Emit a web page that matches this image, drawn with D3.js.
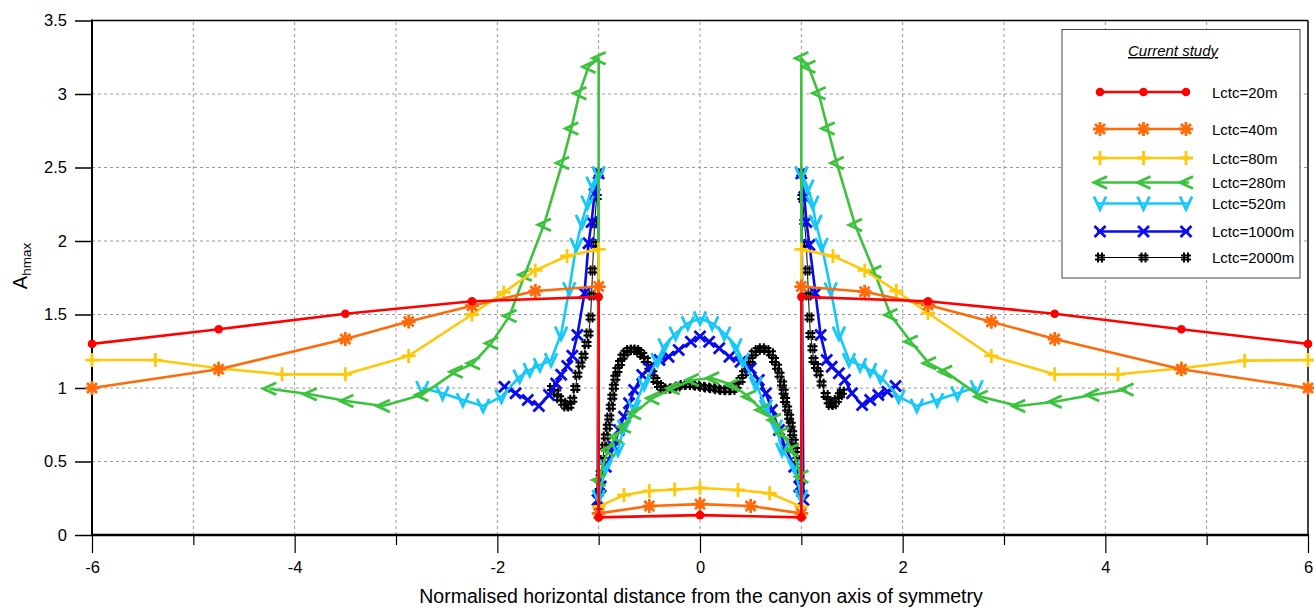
<!DOCTYPE html>
<html><head><meta charset="utf-8">
<script src="https://cdn.jsdelivr.net/npm/d3@7"></script>
<style>
html,body{margin:0;padding:0;background:#fff;}
svg text{font-family:"Liberation Sans",Arial,sans-serif;}
</style></head>
<body>
<svg id="chart" width="1314" height="610"></svg>
<script>
// ---------- DATA ----------
const xTicksMajor = [-6,-4,-2,0,2,4,6];
const xTicksMinor = [-5,-3,-1,1,3,5];
const yTicks = [0,0.5,1,1.5,2,2.5,3,3.5];
const yTickLabels = ["0","0.5","1","1.5","2","2.5","3","3.5"];
const seriesNames = ["Lctc=20m","Lctc=40m","Lctc=80m","Lctc=280m","Lctc=520m","Lctc=1000m","Lctc=2000m"];

const x20 = [-6,-4.75,-3.5,-2.25,-1,-1,0,1,1,2.25,3.5,4.75,6];
const y20 = [1.30,1.40,1.505,1.59,1.62,0.12,0.135,0.12,1.62,1.59,1.505,1.40,1.30];

const x40 = [-6,-4.75,-3.5,-2.875,-2.25,-1.625,-1,-1,-0.5,0,0.5,1,1,1.625,2.25,2.875,3.5,4.75,6];
const y40 = [1.0,1.127,1.333,1.452,1.56,1.66,1.69,0.147,0.197,0.21,0.197,0.147,1.69,1.655,1.565,1.451,1.333,1.127,1.0];

const x80 = [-6,-5.375,-4.75,-4.125,-3.5,-2.875,-2.25,-1.9375,-1.625,-1.3125,-1,-1,-0.75,-0.5,-0.25,0,0.375,0.6875,1,1,1.3125,1.625,1.9375,2.25,2.875,3.5,4.125,4.75,5.375,6];
const y80 = [1.19,1.19,1.134,1.093,1.093,1.218,1.50,1.65,1.80,1.898,1.943,0.193,0.272,0.30,0.31,0.32,0.306,0.284,0.193,1.943,1.898,1.80,1.66,1.51,1.218,1.093,1.093,1.134,1.186,1.19];

const x280 = [-4.25,-3.85,-3.49,-3.13,-2.75,-2.41,-2.24,-2.06,-1.88,-1.73,-1.54,-1.36,-1.27,-1.19,-1.10,-1.0,
  -1.0,-0.91,-0.83,-0.75,-0.65,-0.47,-0.27,-0.08,0.12,0.32,0.48,0.61,0.73,0.81,0.91,1.0,
  1.0,1.07,1.17,1.26,1.35,1.53,1.72,1.88,2.08,2.26,2.42,2.77,3.14,3.50,3.87,4.21];
const y280 = [0.995,0.957,0.912,0.878,0.952,1.111,1.168,1.304,1.49,1.77,2.11,2.53,2.766,3.005,3.186,3.243,
  0.374,0.578,0.669,0.737,0.828,0.93,0.998,1.054,1.066,1.02,0.94,0.85,0.782,0.692,0.578,0.397,
  3.243,3.186,3.005,2.766,2.53,2.109,1.79,1.497,1.315,1.168,1.111,0.941,0.878,0.907,0.952,0.99];

const x520 = [-2.74,-2.54,-2.34,-2.14,-1.96,-1.78,-1.68,-1.58,-1.47,-1.37,-1.29,-1.22,-1.165,-1.11,-1.06,-1.0,
  -1.0,-0.93,-0.81,-0.75,-0.65,-0.55,-0.42,-0.35,-0.24,-0.12,0,0.12,0.24,0.35,0.42,0.55,0.65,0.75,0.81,0.93,1.0,
  1.0,1.06,1.11,1.14,1.20,1.29,1.37,1.47,1.58,1.68,1.78,1.96,2.14,2.34,2.54,2.73];
const y520 = [1.0,0.964,0.918,0.878,0.941,1.077,1.122,1.156,1.19,1.37,1.672,1.973,2.13,2.26,2.39,2.46,
  0.26,0.465,0.58,0.737,0.873,1.03,1.19,1.29,1.37,1.44,1.474,1.44,1.37,1.29,1.19,1.03,0.873,0.737,0.578,0.465,0.26,
  2.46,2.37,2.26,2.13,1.973,1.67,1.37,1.19,1.156,1.122,1.077,0.941,0.878,0.918,0.964,1.005];

const x1000 = [-1.93,-1.82,-1.70,-1.59,-1.49,-1.42,-1.37,-1.31,-1.26,-1.21,-1.14,-1.10,-1.07,-1.04,-1.0,
  -1.01,-0.98,-0.93,-0.85,-0.80,-0.75,-0.70,-0.65,-0.57,-0.50,-0.40,-0.31,-0.21,-0.09,0,0.09,0.19,0.29,0.40,0.50,0.58,0.65,0.71,0.78,0.84,0.93,0.98,1.02,
  1.0,1.03,1.05,1.08,1.14,1.19,1.25,1.30,1.37,1.43,1.50,1.60,1.68,1.76,1.85,1.93];
const y1000 = [1.009,0.964,0.918,0.878,0.952,1.03,1.09,1.15,1.22,1.36,1.644,1.984,2.13,2.32,2.46,
  0.238,0.33,0.465,0.60,0.714,0.805,0.896,0.986,1.088,1.134,1.19,1.213,1.258,1.315,1.35,1.315,1.27,1.213,1.179,1.134,1.054,0.964,0.85,0.714,0.60,0.465,0.33,0.238,
  2.46,2.30,2.13,1.973,1.644,1.36,1.19,1.145,1.10,1.054,0.964,0.884,0.918,0.952,0.975,1.014];

const x2000 = [-1.46,-1.42,-1.39,-1.35,-1.32,-1.29,-1.26,-1.23,-1.21,-1.18,-1.15,-1.12,-1.10,-1.08,-1.07,-1.06,-1.05,-1.04,-1.02,-1.0,
  -1.0,-0.99,-0.98,-0.96,-0.945,-0.93,-0.91,-0.895,-0.88,-0.865,-0.85,-0.835,-0.815,-0.79,-0.765,-0.735,-0.70,-0.665,-0.63,-0.60,-0.57,-0.535,-0.50,-0.47,-0.44,-0.405,-0.37,-0.32,-0.27,-0.22,-0.17,-0.12,-0.08,-0.03,0.02,0.07,0.12,0.17,0.22,0.27,0.32,0.36,0.40,0.435,0.47,0.50,0.53,0.57,0.61,0.655,0.70,0.73,0.76,0.785,0.81,0.825,0.84,0.86,0.88,0.895,0.91,0.925,0.94,0.96,0.975,0.99,1.0,
  1.0,1.01,1.03,1.05,1.06,1.07,1.08,1.09,1.11,1.12,1.145,1.17,1.20,1.24,1.27,1.29,1.32,1.35,1.38,1.40];
const y2000 = [1.0,0.97,0.93,0.90,0.875,0.88,0.92,1.0,1.09,1.16,1.22,1.30,1.37,1.48,1.63,1.80,1.98,2.12,2.30,2.46,
  0.2,0.30,0.42,0.51,0.60,0.67,0.737,0.80,0.873,0.94,1.009,1.07,1.122,1.17,1.213,1.24,1.258,1.262,1.258,1.245,1.224,1.19,1.145,1.10,1.054,1.02,0.998,0.995,0.998,1.01,1.02,1.022,1.02,1.015,1.009,1.003,0.998,0.992,0.986,0.984,0.986,1.015,1.054,1.10,1.145,1.19,1.236,1.258,1.27,1.258,1.236,1.19,1.145,1.09,1.03,0.975,0.918,0.86,0.805,0.75,0.692,0.635,0.578,0.51,0.442,0.36,0.28,
  2.46,2.30,2.13,1.98,1.80,1.63,1.48,1.36,1.27,1.19,1.15,1.10,1.03,0.952,0.91,0.884,0.89,0.918,0.95,0.975];

// ---------- STYLE ----------
const seriesX = [x20,x40,x80,x280,x520,x1000,x2000];
const seriesY = [y20,y40,y80,y280,y520,y1000,y2000];
const colors = ["#ff0000","#ff6a0a","#ffc80a","#3cc23c","#14c8f8","#0a0af0","#000000"];
const widths = [2.6,2.6,2.6,2.6,2.6,2.6,1];
const markers = ["circle","star","plus","left","down","cross","hash"];

const svg = d3.select("#chart");
const x = d3.scaleLinear().domain([-6,6]).range([92,1308]);
const y = d3.scaleLinear().domain([0,3.5]).range([535,20.5]);

// grid
const grid = svg.append("g");
grid.selectAll("line.v").data(d3.range(-5,6)).enter().append("line")
  .attr("x1",d=>x(d)).attr("x2",d=>x(d)).attr("y1",y(0)).attr("y2",y(3.5))
  .attr("stroke","#9a9a9a").attr("stroke-width",1).attr("stroke-dasharray","3,3");
grid.selectAll("line.h").data([0.5,1,1.5,2,2.5,3]).enter().append("line")
  .attr("x1",x(-6)).attr("x2",x(6)).attr("y1",d=>y(d)).attr("y2",d=>y(d))
  .attr("stroke","#9a9a9a").attr("stroke-width",1).attr("stroke-dasharray","3,3");

// frame top/right
svg.append("line").attr("x1",x(-6)).attr("x2",x(6)).attr("y1",y(3.5)).attr("y2",y(3.5)).attr("stroke","#000").attr("stroke-width",1.5);
svg.append("line").attr("x1",x(6)).attr("x2",x(6)).attr("y1",y(3.5)).attr("y2",y(0)).attr("stroke","#000").attr("stroke-width",1.5);

// axes
const xAxisMajor = d3.axisBottom(x).tickValues(xTicksMajor).tickSize(18).tickSizeOuter(0).tickFormat(d=>String(d));
const gx = svg.append("g").attr("transform",`translate(0,${y(0)})`).call(xAxisMajor);
gx.select(".domain").remove();
gx.selectAll(".tick line").attr("stroke","#000").attr("stroke-width",1.2);
gx.selectAll(".tick text").attr("font-size",16.5).attr("dy","1.05em").attr("fill","#000")
  .attr("font-family","Liberation Sans, Arial, sans-serif").text(d=>d<0?"-"+Math.abs(d):String(d));
const xAxisMinor = d3.axisBottom(x).tickValues(xTicksMinor).tickSize(10).tickSizeOuter(0).tickFormat("");
const gxm = svg.append("g").attr("transform",`translate(0,${y(0)})`).call(xAxisMinor);
gxm.select(".domain").remove();
gxm.selectAll(".tick line").attr("stroke","#000").attr("stroke-width",1.2);

const yAxis = d3.axisLeft(y).tickValues(yTicks).tickSize(17).tickSizeOuter(0).tickFormat((d,i)=>yTickLabels[i]);
const gy = svg.append("g").attr("transform",`translate(${x(-6)},0)`).call(yAxis);
gy.select(".domain").remove();
gy.selectAll(".tick line").attr("stroke","#000").attr("stroke-width",1.5);
gy.selectAll(".tick text").attr("font-size",16.5).attr("fill","#000").attr("x",-25)
  .attr("font-family","Liberation Sans, Arial, sans-serif");

svg.append("line").attr("x1",x(-6)).attr("x2",x(-6)).attr("y1",y(3.5)-1).attr("y2",y(0)+1).attr("stroke","#000").attr("stroke-width",2);
svg.append("line").attr("x1",x(-6)-1).attr("x2",x(6)+1).attr("y1",y(0)).attr("y2",y(0)).attr("stroke","#000").attr("stroke-width",2.5);

// marker paths
function markerPath(m){
  switch(m){
    case "star": return "M0,-7V7M-7,0H7M-5,-5L5,5M-5,5L5,-5";
    case "plus": return "M-7,0H7M0,-7V7";
    case "left": return "M7,-6L-6,0L7,6";
    case "down": return "M-6,-7L0,6L6,-7";
    case "cross": return "M-5.5,-5.5L5.5,5.5M-5.5,5.5L5.5,-5.5";
    case "hash": return "M-2,-5V5M2,-5V5M-5,-2H5M-5,2H5";
  }
  return "";
}
function drawMarker(g,m,cx,cy,color){
  if(m==="circle"){
    g.append("circle").attr("cx",cx).attr("cy",cy).attr("r",4.3).attr("fill",color);
  } else {
    g.append("path").attr("d",markerPath(m)).attr("transform",`translate(${cx},${cy})`)
      .attr("fill","none").attr("stroke",color)
      .attr("stroke-width",m==="hash"?2:2.8).attr("stroke-linejoin","miter");
  }
}

// series (draw reverse so red on top)
const line = d3.line().x(d=>x(d[0])).y(d=>y(d[1]));
const plot = svg.append("g");
for(let i=6;i>=0;i--){
  const pts = seriesX[i].map((v,j)=>[v,seriesY[i][j]]);
  const g = plot.append("g");
  g.append("path").datum(pts).attr("d",line).attr("fill","none")
    .attr("stroke",colors[i]).attr("stroke-width",widths[i]).attr("stroke-linejoin","round");
  pts.forEach(p=>drawMarker(g,markers[i],x(p[0]),y(p[1]),colors[i]));
}

// legend
const lg = svg.append("g");
lg.append("rect").attr("x",1062).attr("y",29.5).attr("width",238).attr("height",248.5)
  .attr("fill","#fff").attr("stroke","#444").attr("stroke-width",1);
lg.append("text").attr("x",1173).attr("y",56).attr("text-anchor","middle").attr("font-size",15)
  .attr("font-style","italic").attr("text-decoration","underline").text("Current study");
const legY = [92,129,158,182.5,203.5,231.5,257.5];
seriesNames.forEach((n,i)=>{
  const g = lg.append("g");
  g.append("line").attr("x1",1097).attr("x2",1189).attr("y1",legY[i]).attr("y2",legY[i])
    .attr("stroke",colors[i]).attr("stroke-width",widths[i]);
  [1100,1143.5,1186].forEach(cx=>drawMarker(g,markers[i],cx,legY[i],colors[i]));
  g.append("text").attr("x",1212).attr("y",legY[i]+5.5).attr("font-size",15).attr("fill","#000").text(n);
});

// axis titles
svg.append("text").attr("x",701).attr("y",603).attr("text-anchor","middle").attr("font-size",19.5)
  .text("Normalised horizontal distance from the canyon axis of symmetry");
const yl = svg.append("text").attr("transform","translate(27,266) rotate(-90)").attr("text-anchor","middle").attr("font-size",20);
yl.append("tspan").text("A");
yl.append("tspan").attr("font-size",13.5).attr("dy",4).text("hmax");
</script>
</body></html>
